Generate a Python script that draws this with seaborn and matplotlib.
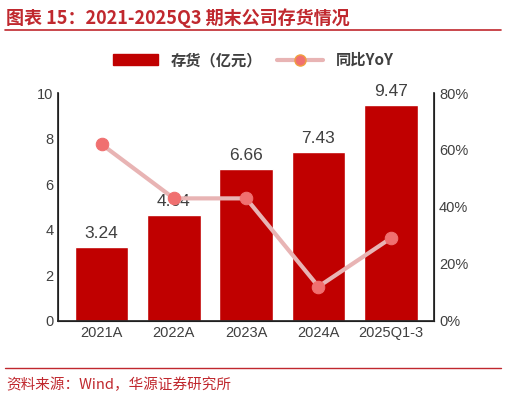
import matplotlib
matplotlib.use("Agg")
import matplotlib.pyplot as plt
import seaborn as sns
import pandas as pd
from matplotlib.lines import Line2D
from matplotlib.ticker import PercentFormatter, MultipleLocator

sns.set_theme(style="white")
plt.rcParams["font.family"] = ["Liberation Sans", "Noto Sans CJK SC"]

categories = ["2021A", "2022A", "2023A", "2024A", "2025Q1-3"]
inventory = [3.24, 4.64, 6.66, 7.43, 9.47]
yoy = [62, 43, 43, 12, 29]

df = pd.DataFrame({"cat": categories, "inv": inventory, "yoy": yoy})

RED = "#c00000"
LINE = "#e8b4b4"
DOT = "#f07070"
TXT = "#404040"
CJK = ["Noto Sans CJK SC"]

fig = plt.figure(figsize=(5.06, 4.01), dpi=100)
ax = fig.add_axes([0.115, 0.2, 0.743, 0.568])
sns.barplot(data=df, x="cat", y="inv", color=RED, saturation=1, width=0.74, ax=ax)
ax.set_ylim(0, 10)
ax.set_xlim(-0.6, 4.6)
ax.set_xlabel("")
ax.set_ylabel("")
for i, v in enumerate(inventory):
    ax.text(i, v + 0.25, f"{v:.2f}", ha="center", va="bottom", fontsize=12.5, color=TXT)
ax.tick_params(axis="both", labelsize=10.5, colors=TXT, length=0)
ax.set_xticks([0.5, 1.5, 2.5, 3.5], minor=True)
ax.tick_params(axis="x", which="minor", length=4, color="black", direction="in")
for s in ["left", "bottom", "right"]:
    ax.spines[s].set_color("black")
    ax.spines[s].set_linewidth(0.8)
ax.spines["top"].set_visible(False)

ax2 = ax.twinx()
sns.lineplot(x=range(len(categories)), y=yoy, ax=ax2, color=LINE, linewidth=3,
             marker="o", markersize=9, markerfacecolor=DOT, markeredgecolor=DOT)
ax2.set_ylim(0, 80)
ax2.yaxis.set_major_locator(MultipleLocator(20))
ax2.yaxis.set_major_formatter(PercentFormatter(decimals=0))
ax2.tick_params(axis="y", labelsize=10.5, colors=TXT, length=0)
ax2.spines["top"].set_visible(False)
ax2.set_ylabel("")

handles = [plt.Rectangle((0, 0), 1, 1, color=RED),
           Line2D([0], [0], color=LINE, lw=3, marker="o", markersize=8,
                  markerfacecolor=DOT, markeredgecolor="#f0a040")]
fig.legend(handles, ["存货（亿元）", "同比YoY"], loc="center", bbox_to_anchor=(0.5, 0.85),
           ncol=2, frameon=False, handlelength=3, columnspacing=1.0,
           prop={"family": CJK, "weight": "bold", "size": 11},
           labelcolor=TXT)

fig.text(0.012, 0.955, "图表 15：2021-2025Q3 期末公司存货情况", color="#c0282e",
         fontsize=13, weight="bold", va="center", family=CJK)
fig.add_artist(Line2D([0.01, 0.99], [0.925, 0.925], color="#c0282e", lw=1.2))
fig.add_artist(Line2D([0.01, 0.99], [0.082, 0.082], color="#c0282e", lw=1))
fig.text(0.012, 0.04, "资料来源：Wind，华源证券研究所", color="#c0282e", fontsize=10.5,
         va="center", family=CJK)

fig.savefig("out.png", dpi=100)
